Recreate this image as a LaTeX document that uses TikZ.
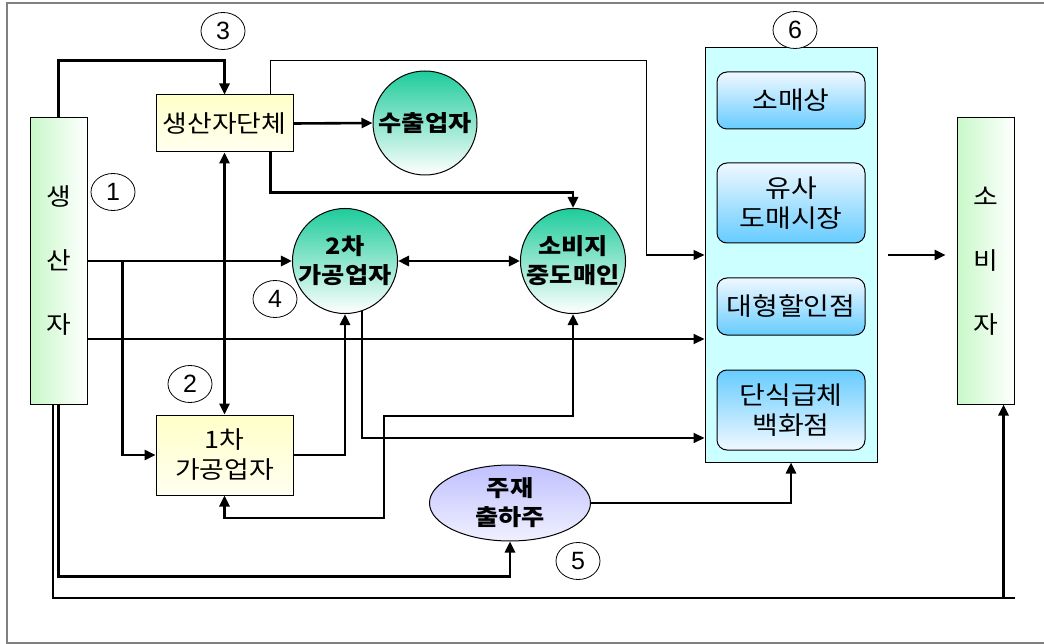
\documentclass[tikz,border=0pt]{standalone}
\usepackage{fontspec}
\setmainfont{Noto Sans CJK KR}[FakeStretch=1.12]
\newfontfamily\numfont{Liberation Sans}
\usetikzlibrary{arrows.meta,calc,shapes.geometric}
\definecolor{grn}{RGB}{200,248,200}
\definecolor{ylw}{RGB}{255,255,200}
\definecolor{ylwb}{RGB}{255,255,240}
\definecolor{teal1}{RGB}{30,204,155}
\definecolor{lav}{RGB}{192,192,255}
\definecolor{lavb}{RGB}{240,240,255}
\definecolor{cyanbg}{RGB}{204,255,255}
\definecolor{blu}{RGB}{102,204,255}
\definecolor{bluw}{RGB}{240,248,255}
\definecolor{frame}{RGB}{128,128,128}
\begin{document}
\begin{tikzpicture}[x=1pt,y=-1pt,
  thk/.style={line width=2.6pt},
  med/.style={line width=2pt},
  thn/.style={line width=1.4pt},
  arr/.style={-{Triangle[length=11pt,width=10pt]}},
  darr/.style={{Triangle[length=11pt,width=10pt]}-{Triangle[length=11pt,width=10pt]}},
  rarr/.style={{Triangle[length=11pt,width=10pt]}-},
  endbox/.style={draw,line width=1pt,left color=grn,right color=white,minimum width=57pt,minimum height=286pt,inner sep=0pt,align=center,font=\fontsize{24}{64}\selectfont},
  ybox/.style={draw,line width=1pt,top color=ylw,bottom color=ylwb,minimum width=137pt,inner sep=0pt,align=center,font=\fontsize{24}{30}\selectfont},
  tcirc/.style={circle,draw,line width=1pt,top color=teal1,bottom color=white,minimum size=104pt,inner sep=0pt,align=center,font=\bfseries\fontsize{22.5}{29}\selectfont},
  lavell/.style={ellipse,draw,line width=1pt,top color=lav,bottom color=lavb,minimum width=161pt,minimum height=76pt,inner sep=0pt,align=center,font=\bfseries\fontsize{22.5}{29}\selectfont},
  retbox/.style={draw,line width=1pt,fill=cyanbg,minimum width=172pt,minimum height=414pt,inner sep=0pt},
  inbox/.style={draw,line width=1pt,rounded corners=10pt,minimum width=148pt,inner sep=0pt,align=center,font=\fontsize{25}{30}\selectfont},
  inboxA/.style={inbox,top color=bluw,bottom color=blu},
  inboxB/.style={inbox,top color=blu,bottom color=bluw},
  num/.style={ellipse,draw,line width=0.8pt,fill=white,minimum width=44pt,minimum height=37pt,inner sep=0pt,font=\numfont\fontsize{25}{25}\selectfont}
]
\useasboundingbox (0,0) rectangle (1044,644);
% frame
\draw[frame,line width=1.5pt] (1044,3) -- (7,3) -- (7,643) -- (1044,643);

% nodes
\node[endbox] (prod) at (58.5,261) {생\\산\\자};
\node[endbox] (con) at (985.5,261) {소\\비\\자};
\node[ybox,minimum height=57pt] (grp) at (224.5,123.5) {생산자단체};
\node[ybox,minimum height=80pt] (p1) at (224.5,455) {1차\\가공업자};
\node[tcirc] (exp) at (425,123) {수출업자};
\node[tcirc] (p2) at (345,261) {2차\\가공업자};
\node[tcirc] (sob) at (573,261) {소비지\\중도매인};
\node[lavell] (ju) at (510,503) {주재\\출하주};
\node[retbox] (ret) at (791,255) {};
\node[inboxA,minimum height=57pt] (r1) at (791,100.5) {소매상};
\node[inboxA,minimum height=80pt] (r2) at (791,203) {유사\\도매시장};
\node[inboxA,minimum height=57pt] (r3) at (791,306.5) {대형할인점};
\node[inboxB,minimum height=80pt] (r4) at (791,410) {단식급체\\백화점};

\node[num] (n1) at (113,192) {1};
\node[num] (n2) at (190,384) {2};
\node[num] (n3) at (223,31) {3};
\node[num] (n4) at (275,299) {4};
\node[num] (n5) at (578,561) {5};
\node[num] (n6) at (795,30) {6};

% connectors
\draw[thk,arr] (prod.north) -- ++(0,-57) -| (grp.north);
\draw[thn,arr] ([xshift=-23pt]grp.north east) -- ++(0,-34) -| ($(ret.west)+(-58,0)$) -- (ret.west);
\draw[thk,arr] ([xshift=-23pt]grp.south east) -- ++(0,40) -| (sob.north);
\draw[thk,arr] (grp.east) -- (exp.west);
\draw[thk,darr] (grp.south) -- (p1.north);
\draw[thk,arr] (prod.east) -- (p2.west);
\draw[thk,arr] ($(prod.east)+(35,0)$) |- (p1.west);
\draw[med,arr] ($(prod.east)+(0,78)$) -- ($(ret.west)+(0,84)$);
\draw[thk,darr] (p2.east) -- (sob.west);
\draw[thk,arr] (p1.east) -| (p2.south);
\draw[med,arr] (p2.-71) |- ($(ret.west)+(0,183)$);
\draw[thk,darr] (sob.south) -- ++(0,102) -- ++(-189,0) -- ++(0,102) -| (p1.south);
\draw[thk,arr] (prod.south) -- ++(0,172) -| (ju.south);
\coordinate (lineend) at (1015,598);
\draw[thn] ([xshift=-5.5pt]prod.south) |- (lineend);
\draw[thk,rarr] ([xshift=-11pt]con.south east) -- ++(0,194);
\draw[thk,arr] (ju.east) -| (ret.south);
\draw[thk,arr] ([xshift=10pt]ret.east) -- ([xshift=-11pt]con.west |- ret.east);
\end{tikzpicture}
\end{document}
